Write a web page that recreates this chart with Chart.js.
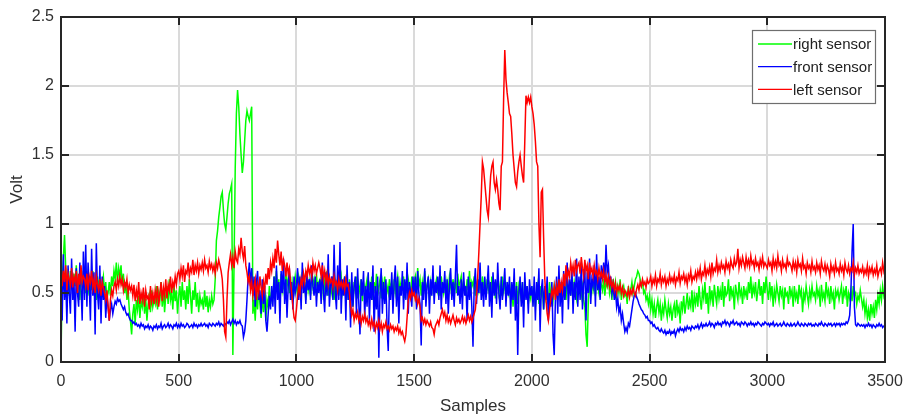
<!DOCTYPE html>
<html>
<head>
<meta charset="utf-8">
<script src="https://cdn.jsdelivr.net/npm/chart.js@4"></script>
<style>
html,body{margin:0;padding:0;background:#fff;}
canvas{display:block;}
</style>
</head>
<body>
<canvas id="c" width="904" height="419"></canvas>
<script>
// values read every 5 samples, 0..3500
const SAMPLE_STEP = 5;
const seriesLabels = ['right sensor', 'front sensor', 'left sensor'];
const xTicks = [0, 500, 1000, 1500, 2000, 2500, 3000, 3500];
const yTicks = [0, 0.5, 1, 1.5, 2, 2.5];

// right sensor (green)
const rightSensor = [
0.02,0.60,0.75,0.92,0.68,0.55,0.62,0.48,0.66,0.58,0.50,0.64,0.55,0.70,0.52,0.60,0.45,0.62,0.56,0.66,
0.58,0.50,0.64,0.55,0.48,0.62,0.52,0.66,0.50,0.58,0.45,0.62,0.55,0.60,0.48,0.56,0.62,0.50,0.58,0.46,
0.50,0.58,0.48,0.62,0.55,0.66,0.60,0.72,0.58,0.68,0.62,0.70,0.55,0.64,0.50,0.58,0.45,0.52,0.38,0.30,
0.20,0.35,0.42,0.28,0.45,0.38,0.48,0.32,0.44,0.40,0.50,0.35,0.46,0.30,0.42,0.48,0.36,0.52,0.40,0.45,
0.42,0.55,0.38,0.50,0.45,0.58,0.40,0.52,0.36,0.48,0.55,0.42,0.60,0.45,0.50,0.38,0.56,0.44,0.52,0.35,
0.48,0.55,0.40,0.58,0.45,0.52,0.38,0.55,0.42,0.60,0.48,0.35,0.52,0.45,0.58,0.40,0.50,0.36,0.48,0.42,
0.45,0.38,0.52,0.40,0.48,0.36,0.45,0.40,0.48,0.42,0.45,0.60,0.88,0.95,1.05,1.12,1.20,1.23,1.10,1.00,
0.96,1.05,1.15,1.22,1.25,1.29,0.05,0.70,1.40,1.80,1.97,1.85,1.65,1.50,1.37,1.45,1.60,1.75,1.82,1.78,
1.75,1.80,1.85,0.35,0.45,0.30,0.50,0.38,0.55,0.42,0.32,0.48,0.36,0.52,0.30,0.45,0.40,0.55,0.42,0.50,
0.48,0.62,0.55,0.66,0.50,0.60,0.45,0.64,0.52,0.58,0.48,0.65,0.55,0.60,0.50,0.62,0.45,0.58,0.52,0.62,
0.55,0.48,0.62,0.58,0.50,0.65,0.55,0.60,0.45,0.62,0.52,0.58,0.48,0.66,0.55,0.60,0.50,0.64,0.52,0.58,
0.60,0.50,0.62,0.45,0.58,0.52,0.66,0.48,0.60,0.55,0.50,0.62,0.45,0.58,0.52,0.60,0.48,0.56,0.62,0.50,
0.55,0.62,0.48,0.58,0.45,0.60,0.50,0.55,0.40,0.58,0.52,0.62,0.46,0.56,0.50,0.60,0.44,0.58,0.52,0.55,
0.60,0.48,0.56,0.52,0.62,0.45,0.58,0.50,0.64,0.48,0.55,0.60,0.46,0.58,0.52,0.62,0.48,0.55,0.50,0.60,
0.52,0.58,0.45,0.60,0.50,0.56,0.62,0.48,0.58,0.52,0.55,0.62,0.46,0.58,0.50,0.60,0.55,0.48,0.62,0.52,
0.58,0.62,0.50,0.68,0.55,0.60,0.48,0.58,0.52,0.66,0.50,0.56,0.60,0.45,0.58,0.52,0.62,0.50,0.56,0.60,
0.52,0.58,0.48,0.62,0.55,0.50,0.60,0.46,0.58,0.52,0.62,0.55,0.48,0.60,0.52,0.58,0.50,0.64,0.55,0.58,
0.62,0.50,0.58,0.55,0.48,0.60,0.52,0.66,0.50,0.58,0.55,0.62,0.48,0.56,0.60,0.52,0.58,0.50,0.62,0.55,
0.58,0.48,0.60,0.52,0.56,0.45,0.62,0.50,0.58,0.46,0.55,0.60,0.50,0.56,0.48,0.62,0.52,0.58,0.45,0.55,
0.50,0.58,0.45,0.55,0.40,0.52,0.48,0.58,0.42,0.55,0.50,0.45,0.58,0.40,0.52,0.48,0.55,0.42,0.50,0.46,
0.55,0.45,0.52,0.40,0.50,0.56,0.42,0.55,0.48,0.52,0.38,0.55,0.46,0.50,0.42,0.58,0.48,0.52,0.45,0.55,
0.50,0.56,0.45,0.60,0.52,0.48,0.58,0.50,0.55,0.45,0.60,0.52,0.56,0.48,0.62,0.50,0.58,0.52,0.46,0.55,
0.52,0.58,0.48,0.55,0.45,0.40,0.20,0.11,0.45,0.55,0.50,0.60,0.52,0.58,0.48,0.62,0.55,0.50,0.60,0.56,
0.52,0.60,0.48,0.58,0.55,0.62,0.50,0.56,0.45,0.60,0.52,0.58,0.48,0.55,0.50,0.60,0.45,0.52,0.55,0.48,
0.50,0.42,0.55,0.48,0.52,0.58,0.50,0.55,0.60,0.62,0.66,0.64,0.60,0.55,0.58,0.50,0.52,0.45,0.48,0.42,
0.48,0.38,0.45,0.35,0.42,0.32,0.40,0.45,0.36,0.42,0.30,0.40,0.35,0.45,0.38,0.32,0.42,0.35,0.40,0.30,
0.38,0.42,0.32,0.45,0.36,0.40,0.28,0.44,0.38,0.48,0.35,0.42,0.50,0.38,0.45,0.40,0.52,0.36,0.48,0.42,
0.50,0.40,0.55,0.45,0.38,0.52,0.46,0.58,0.42,0.50,0.35,0.55,0.45,0.52,0.40,0.56,0.48,0.42,0.55,0.46,
0.52,0.45,0.58,0.40,0.55,0.48,0.50,0.60,0.44,0.55,0.48,0.52,0.38,0.56,0.50,0.45,0.58,0.48,0.52,0.42,
0.55,0.48,0.52,0.45,0.58,0.50,0.62,0.46,0.55,0.50,0.58,0.44,0.52,0.60,0.48,0.55,0.42,0.58,0.50,0.62,
0.52,0.45,0.58,0.48,0.55,0.40,0.52,0.46,0.56,0.50,0.44,0.55,0.48,0.52,0.38,0.54,0.48,0.50,0.42,0.55,
0.48,0.52,0.40,0.55,0.46,0.50,0.42,0.56,0.48,0.52,0.36,0.50,0.45,0.55,0.48,0.42,0.52,0.46,0.55,0.48,
0.50,0.45,0.55,0.48,0.52,0.40,0.56,0.46,0.50,0.44,0.58,0.48,0.52,0.42,0.55,0.46,0.50,0.38,0.52,0.48,
0.52,0.45,0.50,0.55,0.42,0.52,0.48,0.55,0.40,0.50,0.46,0.52,0.44,0.55,0.48,0.50,0.42,0.48,0.45,0.52,
0.46,0.40,0.45,0.35,0.42,0.32,0.38,0.30,0.42,0.35,0.40,0.32,0.45,0.38,0.48,0.42,0.52,0.45,0.55,0.48,
0.52];

// front sensor (blue)
const frontSensor = [
0.55,0.30,0.78,0.45,0.62,0.28,0.70,0.50,0.35,0.75,0.45,0.60,0.22,0.68,0.50,0.40,0.72,0.55,0.30,0.80,
0.45,0.85,0.40,0.72,0.55,0.30,0.82,0.48,0.65,0.20,0.86,0.50,0.38,0.70,0.28,0.62,0.45,0.55,0.32,0.48,
0.40,0.30,0.38,0.42,0.35,0.40,0.44,0.42,0.46,0.44,0.45,0.42,0.40,0.38,0.40,0.36,0.34,0.35,0.32,0.30,
0.30,0.28,0.29,0.27,0.28,0.26,0.27,0.25,0.28,0.26,0.27,0.24,0.26,0.25,0.27,0.24,0.26,0.25,0.23,0.26,
0.25,0.27,0.24,0.26,0.25,0.28,0.24,0.26,0.27,0.25,0.26,0.28,0.25,0.27,0.26,0.24,0.27,0.26,0.28,0.25,
0.27,0.25,0.28,0.26,0.27,0.25,0.26,0.28,0.27,0.25,0.26,0.27,0.25,0.28,0.26,0.27,0.25,0.27,0.26,0.28,
0.26,0.27,0.28,0.26,0.27,0.25,0.28,0.27,0.26,0.28,0.27,0.26,0.28,0.27,0.29,0.26,0.28,0.27,0.26,0.28,
0.27,0.29,0.28,0.30,0.27,0.29,0.31,0.28,0.30,0.27,0.29,0.28,0.30,0.27,0.26,0.18,0.22,0.30,0.45,0.62,
0.72,0.55,0.68,0.48,0.62,0.40,0.58,0.66,0.45,0.52,0.35,0.60,0.42,0.55,0.30,0.22,0.35,0.48,0.38,0.55,
0.40,0.62,0.35,0.70,0.45,0.58,0.28,0.66,0.50,0.75,0.42,0.60,0.32,0.55,0.68,0.45,0.58,0.38,0.62,0.50,
0.55,0.68,0.45,0.62,0.38,0.72,0.50,0.58,0.42,0.66,0.52,0.60,0.45,0.70,0.55,0.48,0.62,0.40,0.58,0.50,
0.60,0.42,0.72,0.50,0.36,0.65,0.48,0.78,0.40,0.55,0.62,0.45,0.85,0.50,0.38,0.70,0.45,0.87,0.35,0.60,
0.48,0.62,0.30,0.70,0.45,0.58,0.25,0.65,0.40,0.55,0.62,0.35,0.68,0.42,0.20,0.60,0.48,0.66,0.32,0.55,
0.40,0.65,0.30,0.58,0.45,0.70,0.22,0.55,0.38,0.62,0.03,0.50,0.68,0.35,0.58,0.42,0.60,0.25,0.08,0.55,
0.45,0.65,0.35,0.58,0.70,0.40,0.62,0.28,0.55,0.48,0.66,0.38,0.60,0.45,0.72,0.35,0.58,0.50,0.40,0.62,
0.48,0.62,0.38,0.66,0.50,0.42,0.12,0.58,0.45,0.68,0.40,0.55,0.62,0.35,0.60,0.48,0.70,0.42,0.58,0.50,
0.62,0.45,0.70,0.38,0.58,0.50,0.66,0.42,0.60,0.35,0.55,0.68,0.45,0.58,0.40,0.62,0.85,0.48,0.55,0.42,
0.60,0.38,0.65,0.48,0.55,0.30,0.62,0.45,0.58,0.40,0.11,0.55,0.68,0.42,0.60,0.50,0.72,0.45,0.58,0.40,
0.62,0.45,0.55,0.70,0.40,0.58,0.32,0.65,0.48,0.60,0.42,0.72,0.50,0.38,0.62,0.45,0.55,0.68,0.40,0.58,
0.48,0.62,0.35,0.58,0.45,0.68,0.30,0.55,0.05,0.50,0.62,0.40,0.58,0.25,0.65,0.45,0.55,0.35,0.60,0.48,
0.55,0.40,0.62,0.30,0.58,0.45,0.68,0.22,0.52,0.60,0.38,0.55,0.45,0.62,0.30,0.50,0.40,0.58,0.20,0.05,
0.45,0.62,0.35,0.70,0.40,0.58,0.28,0.66,0.45,0.55,0.72,0.38,0.60,0.48,0.68,0.35,0.58,0.45,0.75,0.40,
0.62,0.45,0.72,0.38,0.58,0.68,0.30,0.65,0.50,0.75,0.42,0.60,0.55,0.70,0.40,0.78,0.52,0.62,0.45,0.70,
0.60,0.72,0.58,0.85,0.65,0.70,0.55,0.62,0.50,0.56,0.45,0.52,0.40,0.46,0.36,0.40,0.30,0.35,0.28,0.22,
0.25,0.22,0.28,0.26,0.32,0.38,0.44,0.48,0.50,0.47,0.45,0.42,0.40,0.38,0.37,0.35,0.34,0.32,0.33,0.30,
0.30,0.28,0.29,0.26,0.27,0.25,0.24,0.25,0.23,0.22,0.24,0.22,0.21,0.23,0.20,0.22,0.21,0.23,0.20,0.22,
0.21,0.23,0.19,0.22,0.24,0.22,0.25,0.23,0.24,0.22,0.25,0.23,0.26,0.24,0.25,0.23,0.26,0.25,0.24,0.26,
0.25,0.27,0.24,0.26,0.28,0.25,0.27,0.26,0.28,0.26,0.27,0.29,0.26,0.28,0.27,0.25,0.28,0.27,0.29,0.27,
0.28,0.26,0.29,0.28,0.30,0.27,0.29,0.28,0.26,0.29,0.28,0.30,0.27,0.28,0.29,0.27,0.28,0.26,0.29,0.28,
0.27,0.29,0.28,0.26,0.28,0.27,0.29,0.27,0.28,0.26,0.28,0.27,0.29,0.28,0.27,0.26,0.28,0.27,0.29,0.28,
0.27,0.28,0.26,0.28,0.27,0.29,0.26,0.27,0.28,0.26,0.27,0.28,0.26,0.27,0.29,0.27,0.26,0.28,0.27,0.26,
0.28,0.26,0.27,0.28,0.26,0.27,0.29,0.27,0.26,0.28,0.27,0.26,0.28,0.27,0.26,0.28,0.27,0.28,0.26,0.27,
0.26,0.28,0.27,0.26,0.28,0.27,0.29,0.27,0.26,0.28,0.27,0.26,0.28,0.27,0.28,0.26,0.27,0.28,0.26,0.28,
0.27,0.28,0.26,0.28,0.27,0.28,0.27,0.29,0.28,0.30,0.34,0.50,0.80,1.00,0.40,0.27,0.26,0.28,0.27,0.26,
0.27,0.26,0.27,0.25,0.27,0.26,0.28,0.26,0.27,0.25,0.27,0.26,0.25,0.27,0.26,0.28,0.26,0.27,0.25,0.26,
0.26];

// left sensor (red)
const leftSensor = [
0.68,0.55,0.66,0.58,0.70,0.52,0.64,0.60,0.56,0.68,0.54,0.62,0.58,0.66,0.50,0.64,0.56,0.70,0.58,0.62,
0.60,0.55,0.64,0.52,0.62,0.58,0.66,0.54,0.60,0.50,0.62,0.56,0.52,0.60,0.48,0.58,0.54,0.50,0.45,0.52,
0.40,0.30,0.45,0.52,0.48,0.55,0.58,0.52,0.60,0.55,0.62,0.56,0.60,0.52,0.58,0.54,0.60,0.50,0.56,0.52,
0.55,0.48,0.56,0.44,0.52,0.46,0.58,0.42,0.50,0.45,0.54,0.40,0.52,0.46,0.48,0.38,0.55,0.44,0.50,0.42,
0.52,0.45,0.55,0.40,0.50,0.58,0.44,0.54,0.48,0.60,0.46,0.56,0.52,0.62,0.50,0.58,0.54,0.62,0.56,0.64,
0.66,0.60,0.68,0.62,0.70,0.58,0.66,0.64,0.72,0.62,0.68,0.65,0.74,0.63,0.70,0.66,0.72,0.64,0.70,0.67,
0.72,0.66,0.74,0.68,0.70,0.65,0.73,0.68,0.71,0.66,0.70,0.64,0.72,0.68,0.74,0.70,0.66,0.60,0.45,0.22,
0.18,0.45,0.65,0.72,0.78,0.70,0.76,0.68,0.80,0.74,0.72,0.82,0.78,0.90,0.80,0.75,0.84,0.70,0.65,0.58,
0.62,0.52,0.58,0.48,0.55,0.60,0.45,0.56,0.50,0.62,0.54,0.48,0.58,0.52,0.64,0.56,0.68,0.60,0.72,0.66,
0.75,0.68,0.82,0.72,0.88,0.78,0.70,0.80,0.66,0.74,0.70,0.62,0.72,0.64,0.68,0.58,0.50,0.40,0.32,0.30,
0.38,0.48,0.55,0.50,0.60,0.56,0.64,0.58,0.66,0.62,0.70,0.64,0.68,0.62,0.72,0.66,0.70,0.64,0.68,0.72,
0.68,0.62,0.70,0.60,0.66,0.58,0.64,0.56,0.62,0.58,0.60,0.54,0.62,0.56,0.58,0.52,0.60,0.55,0.58,0.54,
0.58,0.52,0.60,0.55,0.56,0.50,0.40,0.34,0.38,0.30,0.35,0.32,0.36,0.30,0.34,0.28,0.33,0.30,0.35,0.29,
0.32,0.27,0.30,0.25,0.31,0.26,0.29,0.23,0.28,0.25,0.30,0.24,0.28,0.22,0.27,0.25,0.29,0.24,0.26,0.23,
0.27,0.24,0.26,0.22,0.25,0.23,0.26,0.21,0.24,0.20,0.22,0.18,0.15,0.20,0.32,0.45,0.50,0.46,0.52,0.48,
0.50,0.45,0.48,0.42,0.46,0.40,0.30,0.32,0.28,0.31,0.27,0.30,0.28,0.26,0.29,0.25,0.24,0.20,0.26,0.28,
0.30,0.27,0.32,0.35,0.38,0.33,0.36,0.30,0.34,0.29,0.32,0.28,0.31,0.34,0.30,0.27,0.32,0.29,0.31,0.28,
0.30,0.33,0.29,0.32,0.28,0.31,0.34,0.30,0.33,0.29,0.32,0.35,0.38,0.48,0.62,0.80,1.00,1.20,1.45,1.40,
1.30,1.20,1.10,1.05,1.20,1.35,1.42,1.45,1.30,1.25,1.32,1.25,1.15,1.10,1.42,1.45,1.90,2.26,2.05,1.95,
1.88,1.80,1.78,1.65,1.50,1.40,1.30,1.27,1.38,1.45,1.50,1.42,1.35,1.30,1.60,1.93,1.88,1.92,1.88,1.92,
1.85,1.80,1.72,1.60,1.45,1.42,1.00,0.76,1.23,1.25,0.90,0.60,0.45,0.35,0.30,0.38,0.45,0.52,0.48,0.55,
0.45,0.55,0.48,0.60,0.50,0.58,0.52,0.64,0.55,0.70,0.60,0.66,0.62,0.72,0.65,0.70,0.62,0.74,0.66,0.70,
0.72,0.64,0.76,0.68,0.62,0.74,0.66,0.70,0.60,0.72,0.65,0.68,0.62,0.70,0.64,0.66,0.60,0.68,0.62,0.65,
0.60,0.66,0.58,0.63,0.56,0.62,0.55,0.60,0.54,0.58,0.52,0.57,0.50,0.55,0.52,0.56,0.50,0.54,0.48,0.52,
0.50,0.48,0.53,0.47,0.52,0.49,0.54,0.50,0.48,0.53,0.56,0.52,0.58,0.55,0.60,0.56,0.58,0.54,0.60,0.57,
0.58,0.62,0.55,0.60,0.57,0.63,0.55,0.60,0.58,0.64,0.56,0.61,0.58,0.62,0.55,0.60,0.57,0.63,0.58,0.61,
0.58,0.63,0.56,0.61,0.59,0.65,0.57,0.62,0.60,0.64,0.58,0.62,0.56,0.63,0.60,0.66,0.58,0.62,0.60,0.65,
0.60,0.66,0.62,0.68,0.60,0.65,0.63,0.70,0.62,0.67,0.64,0.69,0.62,0.72,0.64,0.68,0.66,0.74,0.65,0.70,
0.66,0.72,0.68,0.70,0.65,0.73,0.68,0.71,0.66,0.74,0.70,0.68,0.75,0.70,0.72,0.82,0.68,0.74,0.70,0.76,
0.72,0.68,0.76,0.70,0.74,0.69,0.77,0.71,0.73,0.68,0.75,0.70,0.72,0.67,0.74,0.70,0.76,0.69,0.72,0.70,
0.68,0.74,0.70,0.72,0.66,0.75,0.69,0.73,0.68,0.77,0.70,0.72,0.66,0.74,0.69,0.71,0.67,0.75,0.70,0.72,
0.70,0.66,0.73,0.68,0.72,0.65,0.74,0.69,0.71,0.66,0.75,0.68,0.70,0.64,0.72,0.68,0.70,0.65,0.73,0.67,
0.69,0.65,0.72,0.67,0.70,0.64,0.73,0.68,0.66,0.71,0.65,0.70,0.67,0.62,0.71,0.66,0.69,0.64,0.72,0.66,
0.68,0.64,0.71,0.66,0.69,0.63,0.72,0.67,0.65,0.70,0.64,0.68,0.66,0.72,0.63,0.68,0.65,0.70,0.64,0.67,
0.65,0.69,0.63,0.67,0.64,0.70,0.62,0.68,0.65,0.69,0.63,0.67,0.64,0.70,0.62,0.66,0.68,0.64,0.72,0.66,
0.70];

const samples = rightSensor.map((_, i) => i * SAMPLE_STEP);
const toXY = arr => arr.map((v, i) => ({x: samples[i], y: v}));

const FONT = "'Liberation Sans', Arial, sans-serif";
const AXIS_COLOR = '#262626';
const TEXT_COLOR = '#303030';

const boxPlugin = {
  id: 'matlabBox',
  afterDraw(chart) {
    const {ctx, chartArea: a, scales} = chart;
    ctx.save();
    ctx.strokeStyle = AXIS_COLOR;
    ctx.lineWidth = 2;
    const tl = 8;
    ctx.beginPath();
    xTicks.forEach(v => {
      const px = Math.round(scales.x.getPixelForValue(v));
      ctx.moveTo(px, a.bottom); ctx.lineTo(px, a.bottom - tl);
      ctx.moveTo(px, a.top); ctx.lineTo(px, a.top + tl);
    });
    yTicks.forEach(v => {
      const py = Math.round(scales.y.getPixelForValue(v));
      ctx.moveTo(a.left, py); ctx.lineTo(a.left + tl, py);
      ctx.moveTo(a.right, py); ctx.lineTo(a.right - tl, py);
    });
    ctx.stroke();
    ctx.strokeRect(a.left, a.top, a.right - a.left, a.bottom - a.top);

    // legend box
    const lx = 752, ly = 30, lw = 123, lh = 73;
    ctx.fillStyle = '#fff';
    ctx.fillRect(lx, ly, lw, lh);
    ctx.strokeStyle = '#6e6e6e';
    ctx.lineWidth = 1.2;
    ctx.strokeRect(lx + 0.5, ly + 0.5, lw, lh);
    ctx.font = "15px " + FONT;
    ctx.textBaseline = 'middle';
    ctx.textAlign = 'left';
    chart.data.datasets.forEach((ds, i) => {
      const y = 44 + i * 22.7;
      ctx.strokeStyle = ds.borderColor;
      ctx.lineWidth = 1.3;
      ctx.beginPath();
      ctx.moveTo(758, y); ctx.lineTo(792, y);
      ctx.stroke();
      ctx.fillStyle = '#222';
      ctx.fillText(ds.label, 793, y + 1);
    });
    ctx.restore();
  }
};

new Chart(document.getElementById('c'), {
  type: 'line',
  data: {
    datasets: [
      {label: seriesLabels[0], data: toXY(rightSensor), borderColor: '#00ff00', order: 3},
      {label: seriesLabels[1], data: toXY(frontSensor), borderColor: '#0000ff', order: 2},
      {label: seriesLabels[2], data: toXY(leftSensor), borderColor: '#ff0000', order: 1}
    ]
  },
  options: {
    responsive: false,
    animation: false,
    devicePixelRatio: 1,
    layout: {padding: {left: 0, right: 19, top: 17, bottom: 0}},
    elements: {
      point: {radius: 0},
      line: {borderWidth: 1.5, tension: 0}
    },
    plugins: {
      legend: {display: false},
      tooltip: {enabled: false}
    },
    scales: {
      x: {
        type: 'linear',
        min: 0, max: 3500,
        afterBuildTicks: s => { s.ticks = xTicks.map(v => ({value: v})); },
        afterFit: s => { s.height = 57; s.paddingLeft = 0; s.paddingRight = 0; },
        grid: {color: '#dadada', lineWidth: 2, drawTicks: false},
        border: {display: false},
        ticks: {color: TEXT_COLOR, font: {family: FONT, size: 16}, padding: 10, maxRotation: 0,
                callback: v => String(v)},
        title: {display: true, text: 'Samples', color: TEXT_COLOR, font: {family: FONT, size: 17}, padding: {top: 0, bottom: 2}}
      },
      y: {
        type: 'linear',
        min: 0, max: 2.5,
        afterBuildTicks: s => { s.ticks = yTicks.map(v => ({value: v})); },
        afterFit: s => { s.width = 61; s.paddingTop = 0; s.paddingBottom = 0; },
        grid: {color: '#dadada', lineWidth: 2, drawTicks: false},
        border: {display: false},
        ticks: {color: TEXT_COLOR, font: {family: FONT, size: 16}, padding: 7,
                callback: v => String(v)},
        title: {display: true, text: 'Volt', color: TEXT_COLOR, font: {family: FONT, size: 17}, padding: {top: 7, bottom: 0}}
      }
    }
  },
  plugins: [boxPlugin]
});
</script>
</body>
</html>
